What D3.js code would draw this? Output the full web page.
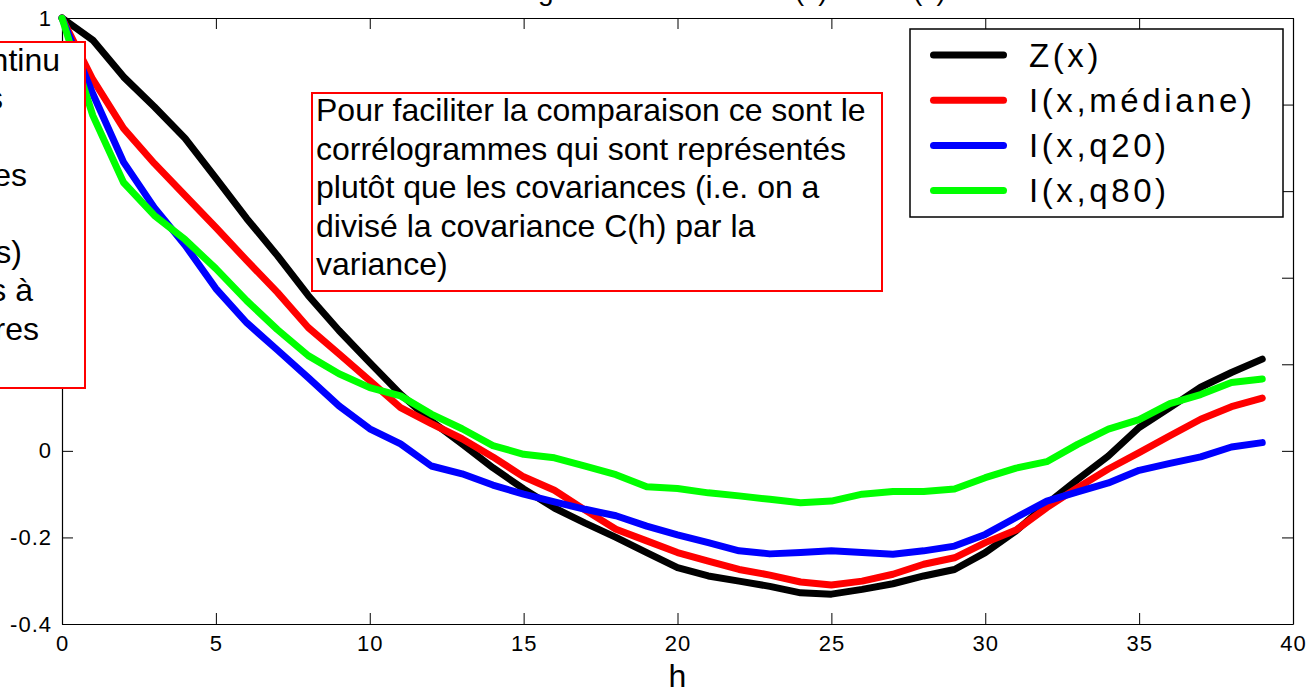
<!DOCTYPE html>
<html>
<head>
<meta charset="utf-8">
<script src="https://cdn.jsdelivr.net/npm/d3@7"></script>
<style>
  html, body { margin: 0; padding: 0; background: #fff; }
  svg { display: block; font-family: "Liberation Sans", Arial, sans-serif; }
</style>
</head>
<body>
<svg id="chart" width="1312" height="692"></svg>
<script>
// Lags h = 0..39
const lags = d3.range(0, 40);

// Correlograms (covariance divided by variance)
const zValues = [1, 0.949, 0.864, 0.795, 0.722, 0.630, 0.537, 0.451, 0.359, 0.278,
  0.204, 0.131, 0.069, 0.016, -0.039, -0.088, -0.132, -0.167, -0.200, -0.235,
  -0.270, -0.289, -0.301, -0.313, -0.328, -0.331, -0.320, -0.307, -0.289, -0.274,
  -0.235, -0.185, -0.123, -0.066, -0.012, 0.054, 0.100, 0.147, 0.181, 0.212];
const medianValues = [1, 0.858, 0.745, 0.664, 0.590, 0.516, 0.440, 0.366, 0.285, 0.224,
  0.162, 0.100, 0.063, 0.028, -0.014, -0.060, -0.091, -0.137, -0.181, -0.208,
  -0.235, -0.255, -0.274, -0.287, -0.303, -0.310, -0.301, -0.285, -0.262, -0.247,
  -0.212, -0.183, -0.131, -0.085, -0.042, -0.004, 0.035, 0.073, 0.102, 0.122];
const q20Values = [1, 0.825, 0.667, 0.562, 0.475, 0.375, 0.296, 0.233, 0.169, 0.104,
  0.051, 0.016, -0.035, -0.053, -0.079, -0.100, -0.118, -0.135, -0.150, -0.174,
  -0.194, -0.212, -0.231, -0.238, -0.235, -0.231, -0.235, -0.239, -0.231, -0.220,
  -0.193, -0.154, -0.116, -0.095, -0.074, -0.045, -0.029, -0.014, 0.009, 0.019];
const q80Values = [1, 0.775, 0.620, 0.544, 0.488, 0.421, 0.347, 0.280, 0.220, 0.178,
  0.146, 0.127, 0.085, 0.051, 0.012, -0.008, -0.016, -0.035, -0.055, -0.083,
  -0.087, -0.097, -0.104, -0.112, -0.120, -0.116, -0.100, -0.094, -0.094, -0.088,
  -0.062, -0.040, -0.025, 0.015, 0.050, 0.072, 0.109, 0.130, 0.158, 0.166];

const seriesNames = ["Z(x)", "I(x,médiane)", "I(x,q20)", "I(x,q80)"];
const seriesColors = ["#000000", "#ff0000", "#0000ff", "#00ff00"];

const xTicks = [0, 5, 10, 15, 20, 25, 30, 35, 40];
const yTicks = [-0.4, -0.2, 0, 0.2, 0.4, 0.6, 0.8, 1];

const titleText = "Corrélogramme estimé de Z(x) et de I(x)";
const xLabel = "h";

const noteLines = [
  "Pour faciliter la comparaison ce sont le",
  "corrélogrammes qui sont représentés",
  "plutôt que les covariances (i.e. on a",
  "divisé la covariance C(h) par la",
  "variance)"
];
const sideNoteLines = [
  "Z(x) est un champ continu",
  "I(x,q) désigne les indicatrices",
  "I(x,q) = 1 si Z(x) ≤ q, 0 sinon",
  "calculées pour des seuils fixes",
  "q20, médiane et q80",
  "(quantiles de Z(x), médiane comprises)",
  "les seuils étant fixés à",
  "des valeurs de Z(x) particulières"
];

// ---- layout ----
const svg = d3.select("#chart");
const plot = { left: 62, right: 1293, top: 18, bottom: 624 };

const x = d3.scaleLinear().domain([0, 40]).range([plot.left, plot.right]);
const y = d3.scaleLinear().domain([-0.4, 1]).range([plot.bottom, plot.top]);

const fmt = d => (Math.abs(d) < 1e-9 ? "0" : String(+d.toFixed(1)));

// Title (sits at the very top edge)
svg.append("text")
  .attr("x", 696).attr("y", 0)
  .attr("text-anchor", "middle")
  .attr("font-size", 28)
  .text(titleText);

// Axes: ticks point inward, box on all four sides
const tickLen = 11;
const axisFont = 22;

const gBottom = svg.append("g").attr("transform", `translate(0,${plot.bottom})`)
  .call(d3.axisBottom(x).tickValues(xTicks).tickFormat(fmt)
    .tickSizeInner(-tickLen).tickSizeOuter(0).tickPadding(11));
const gTop = svg.append("g").attr("transform", `translate(0,${plot.top})`)
  .call(d3.axisTop(x).tickValues(xTicks).tickFormat("")
    .tickSizeInner(-tickLen).tickSizeOuter(0));
const gLeft = svg.append("g").attr("transform", `translate(${plot.left},0)`)
  .call(d3.axisLeft(y).tickValues(yTicks).tickFormat(fmt)
    .tickSizeInner(-tickLen).tickSizeOuter(0).tickPadding(10));
const gRight = svg.append("g").attr("transform", `translate(${plot.right},0)`)
  .call(d3.axisRight(y).tickValues(yTicks).tickFormat("")
    .tickSizeInner(-tickLen).tickSizeOuter(0));

[gBottom, gTop, gLeft, gRight].forEach(g => {
  g.select(".domain").attr("stroke", "#000").attr("stroke-width", 1.2);
  g.selectAll(".tick line").attr("stroke", "#000").attr("stroke-width", 1);
  g.selectAll(".tick text")
    .attr("fill", "#000")
    .attr("font-size", axisFont)
    .attr("font-family", "'Liberation Sans', Arial, sans-serif")
    .style("letter-spacing", "1px");
});

// x-axis label
svg.append("text")
  .attr("x", (plot.left + plot.right) / 2).attr("y", 687)
  .attr("text-anchor", "middle")
  .attr("font-size", 32)
  .text(xLabel);

// Curves
const allSeries = [zValues, medianValues, q20Values, q80Values];
const line = d3.line().x((d, i) => x(lags[i])).y(d => y(d));

svg.append("g").selectAll("path")
  .data(allSeries)
  .join("path")
  .attr("d", d => line(d))
  .attr("fill", "none")
  .attr("stroke", (d, i) => seriesColors[i])
  .attr("stroke-width", 7)
  .attr("stroke-linejoin", "round")
  .attr("stroke-linecap", "round");

// Side note box (extends beyond the left edge)
const sideBox = { x0: -300, x1: 85, y0: 42, y1: 388 };
svg.append("rect")
  .attr("x", sideBox.x0).attr("y", sideBox.y0)
  .attr("width", sideBox.x1 - sideBox.x0).attr("height", sideBox.y1 - sideBox.y0)
  .attr("fill", "#fff").attr("stroke", "#ff0000").attr("stroke-width", 2);
const sideLineEnds = [60, 3, -25, 27, -25, 22, 33, 39];
svg.append("g").selectAll("text")
  .data(sideNoteLines)
  .join("text")
  .attr("x", (d, i) => sideLineEnds[i])
  .attr("y", (d, i) => 71 + i * 38.4)
  .attr("text-anchor", "end")
  .attr("font-size", 32)
  .text(d => d);

// Central note box
const noteBox = { x0: 312, x1: 882, y0: 93, y1: 291 };
svg.append("rect")
  .attr("x", noteBox.x0).attr("y", noteBox.y0)
  .attr("width", noteBox.x1 - noteBox.x0).attr("height", noteBox.y1 - noteBox.y0)
  .attr("fill", "#fff").attr("stroke", "#ff0000").attr("stroke-width", 2);
svg.append("g").selectAll("text")
  .data(noteLines)
  .join("text")
  .attr("x", noteBox.x0 + 4)
  .attr("y", (d, i) => noteBox.y0 + 28 + i * 38.6)
  .attr("font-size", 32)
  .text(d => d);

// Legend
const legend = svg.append("g");
legend.append("rect")
  .attr("x", 910).attr("y", 29).attr("width", 373).attr("height", 188)
  .attr("fill", "#fff").attr("stroke", "#000").attr("stroke-width", 1.5);
const legendRows = legend.selectAll("g.row")
  .data(seriesNames)
  .join("g").attr("class", "row")
  .attr("transform", (d, i) => `translate(0,${55 + i * 45.2})`);
legendRows.append("line")
  .attr("x1", 933.5).attr("x2", 1003.5).attr("y1", 0).attr("y2", 0)
  .attr("stroke", (d, i) => seriesColors[i])
  .attr("stroke-width", 7).attr("stroke-linecap", "round");
legendRows.append("text")
  .attr("x", 1029).attr("y", 11.7)
  .attr("font-size", 33)
  .style("letter-spacing", "3.6px")
  .text(d => d);
</script>
</body>
</html>
